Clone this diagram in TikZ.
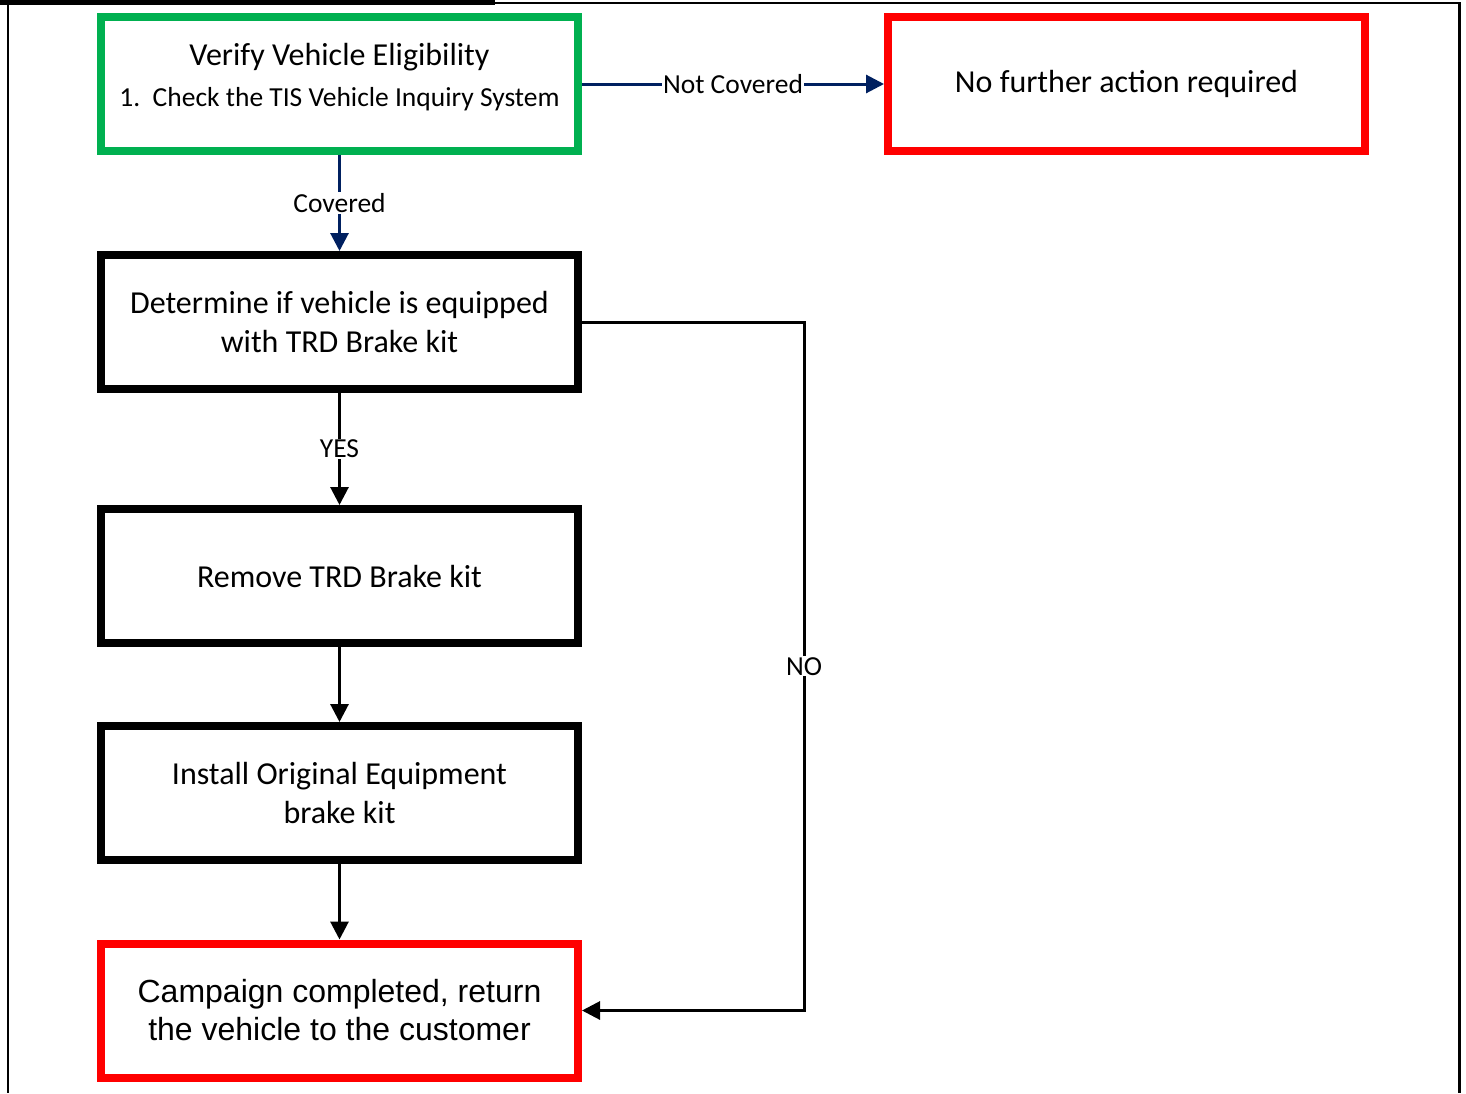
\documentclass[tikz,border=0pt]{standalone}
\usepackage{fontspec}
\setmainfont{Carlito}
\newfontfamily\arialfont{Liberation Sans}
\usetikzlibrary{arrows.meta}
\definecolor{boxgreen}{RGB}{0,176,80}
\definecolor{boxred}{RGB}{255,0,0}
\definecolor{navy}{RGB}{0,32,96}
\tikzstyle{box}=[draw=black, line width=8pt, minimum width=477pt, minimum height=134pt, align=center, font=\fontsize{32}{39}\selectfont]
\tikzstyle{greenbox}=[box, draw=boxgreen]
\tikzstyle{redbox}=[box, draw=boxred]
\tikzstyle{lbl}=[fill=white, text=black, inner sep=1pt, font=\fontsize{27.5}{30}\selectfont]
\tikzstyle{arr}=[line width=3pt, -{Triangle[length=18pt,width=18pt]}]

\begin{document}
\begin{tikzpicture}[x=1pt, y=-1pt]
    \useasboundingbox (0,0) rectangle (1466,1093);

    % frame
    \fill (0,0) rectangle (495,5);
    \draw[line width=1.5pt] (495,3) -- (1459,3);
    \draw[line width=2pt] (8,0) -- (8,1093);
    \draw[line width=3pt] (1459,2) -- (1459,1093);

    \node[greenbox] (verify) at (339.5,84) {};
    \node[align=center] (verifytxt) at (339.5,77) {{\fontsize{32}{36}\selectfont Verify Vehicle Eligibility}\\[16pt]
        {\fontsize{27.5}{30}\selectfont 1.~~Check the TIS Vehicle Inquiry System}};
    \node[redbox] (nofurther) at (1126.5,84) {No further action required};
    \node[box] (determine) at (339.5,322) {Determine if vehicle is equipped\\with TRD Brake kit};
    \node[box] (remove) at (339.5,576) {Remove TRD Brake kit};
    \node[box] (install) at (339.5,793) {Install Original Equipment\\brake kit};
    \node[redbox, font=\arialfont\fontsize{32}{38}\selectfont] (campaign) at (339.5,1010.5) {Campaign completed, return\\the vehicle to the customer};

    \draw[arr, navy] (verify) -- node[lbl] {Covered} (determine);
    \draw[arr, navy] (verify) -- node[lbl] {Not Covered} (nofurther);
    \draw[arr] (determine) -- node[lbl] {YES} (remove);
    \draw[arr] (remove) -- (install);
    \draw[arr] (install) -- (campaign);
    \draw[arr] (determine.east) -- ++(222,0) |- node[lbl, pos=.25] {NO} (campaign.east);

  \end{tikzpicture}
\end{document}
